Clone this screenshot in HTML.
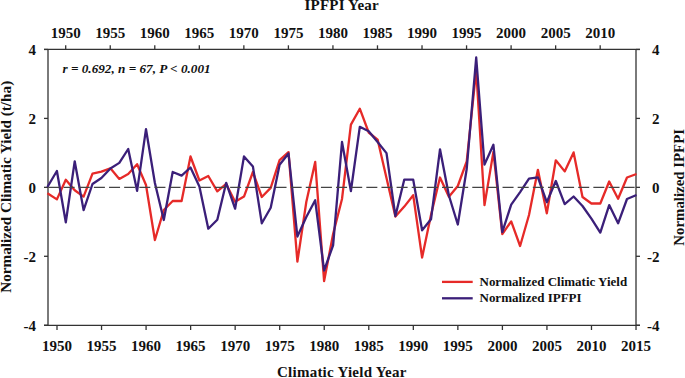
<!DOCTYPE html>
<html><head><meta charset="utf-8"><style>
html,body{margin:0;padding:0;background:#fff;}
body{width:685px;height:378px;overflow:hidden;font-family:"Liberation Serif",serif;}
svg{display:block;}
</style></head><body>
<svg width="685" height="378" viewBox="0 0 685 378">
<rect width="685" height="378" fill="#fff"/>
<line x1="48.0" y1="49.4" x2="48.0" y2="325.3" stroke="#7a7a7a" stroke-width="2"/>
<line x1="636.0" y1="49.4" x2="636.0" y2="325.3" stroke="#7a7a7a" stroke-width="2"/>
<line x1="44" y1="49.4" x2="640" y2="49.4" stroke="#333" stroke-width="1.3"/>
<line x1="44" y1="325.3" x2="640" y2="325.3" stroke="#333" stroke-width="1.3"/>
<line x1="44" y1="49.47" x2="48.0" y2="49.47" stroke="#333" stroke-width="1.3"/>
<line x1="636.0" y1="49.47" x2="640" y2="49.47" stroke="#333" stroke-width="1.3"/>
<line x1="44" y1="118.41" x2="48.0" y2="118.41" stroke="#333" stroke-width="1.3"/>
<line x1="636.0" y1="118.41" x2="640" y2="118.41" stroke="#333" stroke-width="1.3"/>
<line x1="44" y1="187.35" x2="48.0" y2="187.35" stroke="#333" stroke-width="1.3"/>
<line x1="636.0" y1="187.35" x2="640" y2="187.35" stroke="#333" stroke-width="1.3"/>
<line x1="44" y1="256.29" x2="48.0" y2="256.29" stroke="#333" stroke-width="1.3"/>
<line x1="636.0" y1="256.29" x2="640" y2="256.29" stroke="#333" stroke-width="1.3"/>
<line x1="44" y1="325.23" x2="48.0" y2="325.23" stroke="#333" stroke-width="1.3"/>
<line x1="636.0" y1="325.23" x2="640" y2="325.23" stroke="#333" stroke-width="1.3"/>
<line x1="57.00" y1="325.3" x2="57.00" y2="330" stroke="#333" stroke-width="1.3"/>
<line x1="101.54" y1="325.3" x2="101.54" y2="330" stroke="#333" stroke-width="1.3"/>
<line x1="146.08" y1="325.3" x2="146.08" y2="330" stroke="#333" stroke-width="1.3"/>
<line x1="190.62" y1="325.3" x2="190.62" y2="330" stroke="#333" stroke-width="1.3"/>
<line x1="235.16" y1="325.3" x2="235.16" y2="330" stroke="#333" stroke-width="1.3"/>
<line x1="279.70" y1="325.3" x2="279.70" y2="330" stroke="#333" stroke-width="1.3"/>
<line x1="324.24" y1="325.3" x2="324.24" y2="330" stroke="#333" stroke-width="1.3"/>
<line x1="368.78" y1="325.3" x2="368.78" y2="330" stroke="#333" stroke-width="1.3"/>
<line x1="413.32" y1="325.3" x2="413.32" y2="330" stroke="#333" stroke-width="1.3"/>
<line x1="457.86" y1="325.3" x2="457.86" y2="330" stroke="#333" stroke-width="1.3"/>
<line x1="502.40" y1="325.3" x2="502.40" y2="330" stroke="#333" stroke-width="1.3"/>
<line x1="546.94" y1="325.3" x2="546.94" y2="330" stroke="#333" stroke-width="1.3"/>
<line x1="591.48" y1="325.3" x2="591.48" y2="330" stroke="#333" stroke-width="1.3"/>
<line x1="636.02" y1="325.3" x2="636.02" y2="330" stroke="#333" stroke-width="1.3"/>
<line x1="65.70" y1="45.3" x2="65.70" y2="49.4" stroke="#333" stroke-width="1.3"/>
<line x1="110.24" y1="45.3" x2="110.24" y2="49.4" stroke="#333" stroke-width="1.3"/>
<line x1="154.78" y1="45.3" x2="154.78" y2="49.4" stroke="#333" stroke-width="1.3"/>
<line x1="199.32" y1="45.3" x2="199.32" y2="49.4" stroke="#333" stroke-width="1.3"/>
<line x1="243.86" y1="45.3" x2="243.86" y2="49.4" stroke="#333" stroke-width="1.3"/>
<line x1="288.40" y1="45.3" x2="288.40" y2="49.4" stroke="#333" stroke-width="1.3"/>
<line x1="332.94" y1="45.3" x2="332.94" y2="49.4" stroke="#333" stroke-width="1.3"/>
<line x1="377.48" y1="45.3" x2="377.48" y2="49.4" stroke="#333" stroke-width="1.3"/>
<line x1="422.02" y1="45.3" x2="422.02" y2="49.4" stroke="#333" stroke-width="1.3"/>
<line x1="466.56" y1="45.3" x2="466.56" y2="49.4" stroke="#333" stroke-width="1.3"/>
<line x1="511.10" y1="45.3" x2="511.10" y2="49.4" stroke="#333" stroke-width="1.3"/>
<line x1="555.64" y1="45.3" x2="555.64" y2="49.4" stroke="#333" stroke-width="1.3"/>
<line x1="600.18" y1="45.3" x2="600.18" y2="49.4" stroke="#333" stroke-width="1.3"/>
<polyline points="47.4,193.3 56.9,199.4 65.8,179.7 74.7,190.3 83.6,196.6 92.5,173.7 101.4,171.7 110.4,168.3 119.3,178.9 128.2,174.0 137.1,164.2 146.0,185.0 154.9,240.0 163.8,210.0 172.7,201.0 181.6,201.0 190.5,156.5 199.4,180.5 208.3,176.0 217.3,191.3 226.2,183.9 235.1,201.8 244.0,196.6 252.9,172.0 261.8,197.0 270.7,187.9 279.6,160.1 288.5,152.1 297.4,261.7 306.3,202.0 315.2,161.9 324.1,281.1 333.1,234.0 342.0,199.0 350.9,124.6 359.8,108.7 368.7,132.5 377.6,139.6 386.5,178.0 395.4,216.6 404.3,206.6 413.2,195.2 422.1,257.6 431.0,215.0 440.0,177.5 448.9,196.8 457.8,186.0 466.7,161.5 476.2,70.0 484.5,205.1 493.4,151.9 502.3,234.1 511.2,221.4 520.1,246.0 529.0,215.0 537.9,169.8 546.8,213.3 555.8,160.3 564.7,171.4 573.6,152.4 582.5,197.0 591.4,203.5 600.3,203.5 609.2,181.5 618.1,198.8 627.0,177.5 636.5,174.0" fill="none" stroke="#e62a28" stroke-width="2.3" stroke-linejoin="round" stroke-linecap="butt"/>
<polyline points="47.4,187.0 56.9,171.0 65.8,222.3 74.7,161.3 83.6,210.1 92.5,184.0 101.4,178.0 110.4,168.5 119.3,162.9 128.2,149.0 137.1,190.8 146.0,129.2 154.9,183.0 163.8,220.0 172.7,172.0 181.6,175.6 190.5,167.5 199.4,186.5 208.3,228.7 217.3,219.7 226.2,182.8 235.1,208.7 244.0,156.4 252.9,166.4 261.8,223.3 270.7,207.8 279.6,164.8 288.5,153.5 297.4,236.5 306.3,217.0 315.2,200.3 324.1,270.5 333.1,245.3 342.0,142.0 350.9,191.0 359.8,126.8 368.7,131.3 377.6,142.0 386.5,153.1 395.4,216.1 404.3,179.6 413.2,179.6 422.1,230.3 431.0,219.3 440.0,149.3 448.9,195.5 457.8,224.5 466.7,169.0 476.2,57.5 484.5,164.6 493.4,144.8 502.3,232.1 511.2,204.6 520.1,192.1 529.0,178.6 537.9,177.3 546.8,202.2 555.8,181.0 564.7,204.1 573.6,196.5 582.5,206.0 591.4,218.7 600.3,232.6 609.2,205.1 618.1,223.3 627.0,199.0 636.5,195.0" fill="none" stroke="#3b1f79" stroke-width="2.3" stroke-linejoin="round" stroke-linecap="butt"/>
<line x1="48.5" y1="187.35" x2="636.0" y2="187.35" stroke="#444" stroke-width="1.3" stroke-dasharray="11 4.135"/>
<text x="65.70" y="38" font-family="Liberation Serif" font-weight="bold" font-size="15" text-anchor="middle" fill="#111">1950</text>
<text x="110.24" y="38" font-family="Liberation Serif" font-weight="bold" font-size="15" text-anchor="middle" fill="#111">1955</text>
<text x="154.78" y="38" font-family="Liberation Serif" font-weight="bold" font-size="15" text-anchor="middle" fill="#111">1960</text>
<text x="199.32" y="38" font-family="Liberation Serif" font-weight="bold" font-size="15" text-anchor="middle" fill="#111">1965</text>
<text x="243.86" y="38" font-family="Liberation Serif" font-weight="bold" font-size="15" text-anchor="middle" fill="#111">1970</text>
<text x="288.40" y="38" font-family="Liberation Serif" font-weight="bold" font-size="15" text-anchor="middle" fill="#111">1975</text>
<text x="332.94" y="38" font-family="Liberation Serif" font-weight="bold" font-size="15" text-anchor="middle" fill="#111">1980</text>
<text x="377.48" y="38" font-family="Liberation Serif" font-weight="bold" font-size="15" text-anchor="middle" fill="#111">1985</text>
<text x="422.02" y="38" font-family="Liberation Serif" font-weight="bold" font-size="15" text-anchor="middle" fill="#111">1990</text>
<text x="466.56" y="38" font-family="Liberation Serif" font-weight="bold" font-size="15" text-anchor="middle" fill="#111">1995</text>
<text x="511.10" y="38" font-family="Liberation Serif" font-weight="bold" font-size="15" text-anchor="middle" fill="#111">2000</text>
<text x="555.64" y="38" font-family="Liberation Serif" font-weight="bold" font-size="15" text-anchor="middle" fill="#111">2005</text>
<text x="600.18" y="38" font-family="Liberation Serif" font-weight="bold" font-size="15" text-anchor="middle" fill="#111">2010</text>
<text x="57.00" y="350.6" font-family="Liberation Serif" font-weight="bold" font-size="15" text-anchor="middle" fill="#111">1950</text>
<text x="101.54" y="350.6" font-family="Liberation Serif" font-weight="bold" font-size="15" text-anchor="middle" fill="#111">1955</text>
<text x="146.08" y="350.6" font-family="Liberation Serif" font-weight="bold" font-size="15" text-anchor="middle" fill="#111">1960</text>
<text x="190.62" y="350.6" font-family="Liberation Serif" font-weight="bold" font-size="15" text-anchor="middle" fill="#111">1965</text>
<text x="235.16" y="350.6" font-family="Liberation Serif" font-weight="bold" font-size="15" text-anchor="middle" fill="#111">1970</text>
<text x="279.70" y="350.6" font-family="Liberation Serif" font-weight="bold" font-size="15" text-anchor="middle" fill="#111">1975</text>
<text x="324.24" y="350.6" font-family="Liberation Serif" font-weight="bold" font-size="15" text-anchor="middle" fill="#111">1980</text>
<text x="368.78" y="350.6" font-family="Liberation Serif" font-weight="bold" font-size="15" text-anchor="middle" fill="#111">1985</text>
<text x="413.32" y="350.6" font-family="Liberation Serif" font-weight="bold" font-size="15" text-anchor="middle" fill="#111">1990</text>
<text x="457.86" y="350.6" font-family="Liberation Serif" font-weight="bold" font-size="15" text-anchor="middle" fill="#111">1995</text>
<text x="502.40" y="350.6" font-family="Liberation Serif" font-weight="bold" font-size="15" text-anchor="middle" fill="#111">2000</text>
<text x="546.94" y="350.6" font-family="Liberation Serif" font-weight="bold" font-size="15" text-anchor="middle" fill="#111">2005</text>
<text x="591.48" y="350.6" font-family="Liberation Serif" font-weight="bold" font-size="15" text-anchor="middle" fill="#111">2010</text>
<text x="636.02" y="350.6" font-family="Liberation Serif" font-weight="bold" font-size="15" text-anchor="middle" fill="#111">2015</text>
<text x="36" y="55.07" font-family="Liberation Serif" font-weight="bold" font-size="15" text-anchor="end" fill="#111">4</text>
<text x="659.6" y="55.07" font-family="Liberation Serif" font-weight="bold" font-size="15" text-anchor="end" fill="#111">4</text>
<text x="36" y="124.01" font-family="Liberation Serif" font-weight="bold" font-size="15" text-anchor="end" fill="#111">2</text>
<text x="659.6" y="124.01" font-family="Liberation Serif" font-weight="bold" font-size="15" text-anchor="end" fill="#111">2</text>
<text x="36" y="192.95" font-family="Liberation Serif" font-weight="bold" font-size="15" text-anchor="end" fill="#111">0</text>
<text x="659.6" y="192.95" font-family="Liberation Serif" font-weight="bold" font-size="15" text-anchor="end" fill="#111">0</text>
<text x="36" y="261.89" font-family="Liberation Serif" font-weight="bold" font-size="15" text-anchor="end" fill="#111">-2</text>
<text x="659.6" y="261.89" font-family="Liberation Serif" font-weight="bold" font-size="15" text-anchor="end" fill="#111">-2</text>
<text x="36" y="330.83" font-family="Liberation Serif" font-weight="bold" font-size="15" text-anchor="end" fill="#111">-4</text>
<text x="659.6" y="330.83" font-family="Liberation Serif" font-weight="bold" font-size="15" text-anchor="end" fill="#111">-4</text>
<text x="304.5" y="9.8" font-family="Liberation Serif" font-weight="bold" font-size="15" textLength="74.2" lengthAdjust="spacing" fill="#111">IPFPI Year</text>
<text x="277.0" y="377.4" font-family="Liberation Serif" font-weight="bold" font-size="15" textLength="129.4" lengthAdjust="spacing" fill="#111">Climatic Yield Year</text>
<text transform="translate(11.2,186.75) rotate(-90)" font-family="Liberation Serif" font-weight="bold" font-size="15.2" text-anchor="middle" fill="#111">Normalized Climatic Yield (t/ha)</text>
<text transform="translate(684.4,187.35) rotate(-90)" font-family="Liberation Serif" font-weight="bold" font-size="14.85" text-anchor="middle" fill="#111">Normalized IPFPI</text>
<text x="62.5" y="72.5" font-family="Liberation Serif" font-weight="bold" font-style="italic" font-size="13.2" fill="#111">r = 0.692, n = 67, P &lt; 0.001</text>
<line x1="442" y1="281.9" x2="472.7" y2="281.9" stroke="#e62a28" stroke-width="2.3"/>
<line x1="442" y1="298.3" x2="472.7" y2="298.3" stroke="#3b1f79" stroke-width="2.3"/>
<text transform="translate(479.5,286.0) scale(0.97,1)" font-family="Liberation Serif" font-weight="bold" font-size="13.4" fill="#111">Normalized Climatic Yield</text>
<text transform="translate(479.5,302.3) scale(0.97,1)" font-family="Liberation Serif" font-weight="bold" font-size="13.4" fill="#111">Normalized IPFPI</text>
</svg>
</body></html>
